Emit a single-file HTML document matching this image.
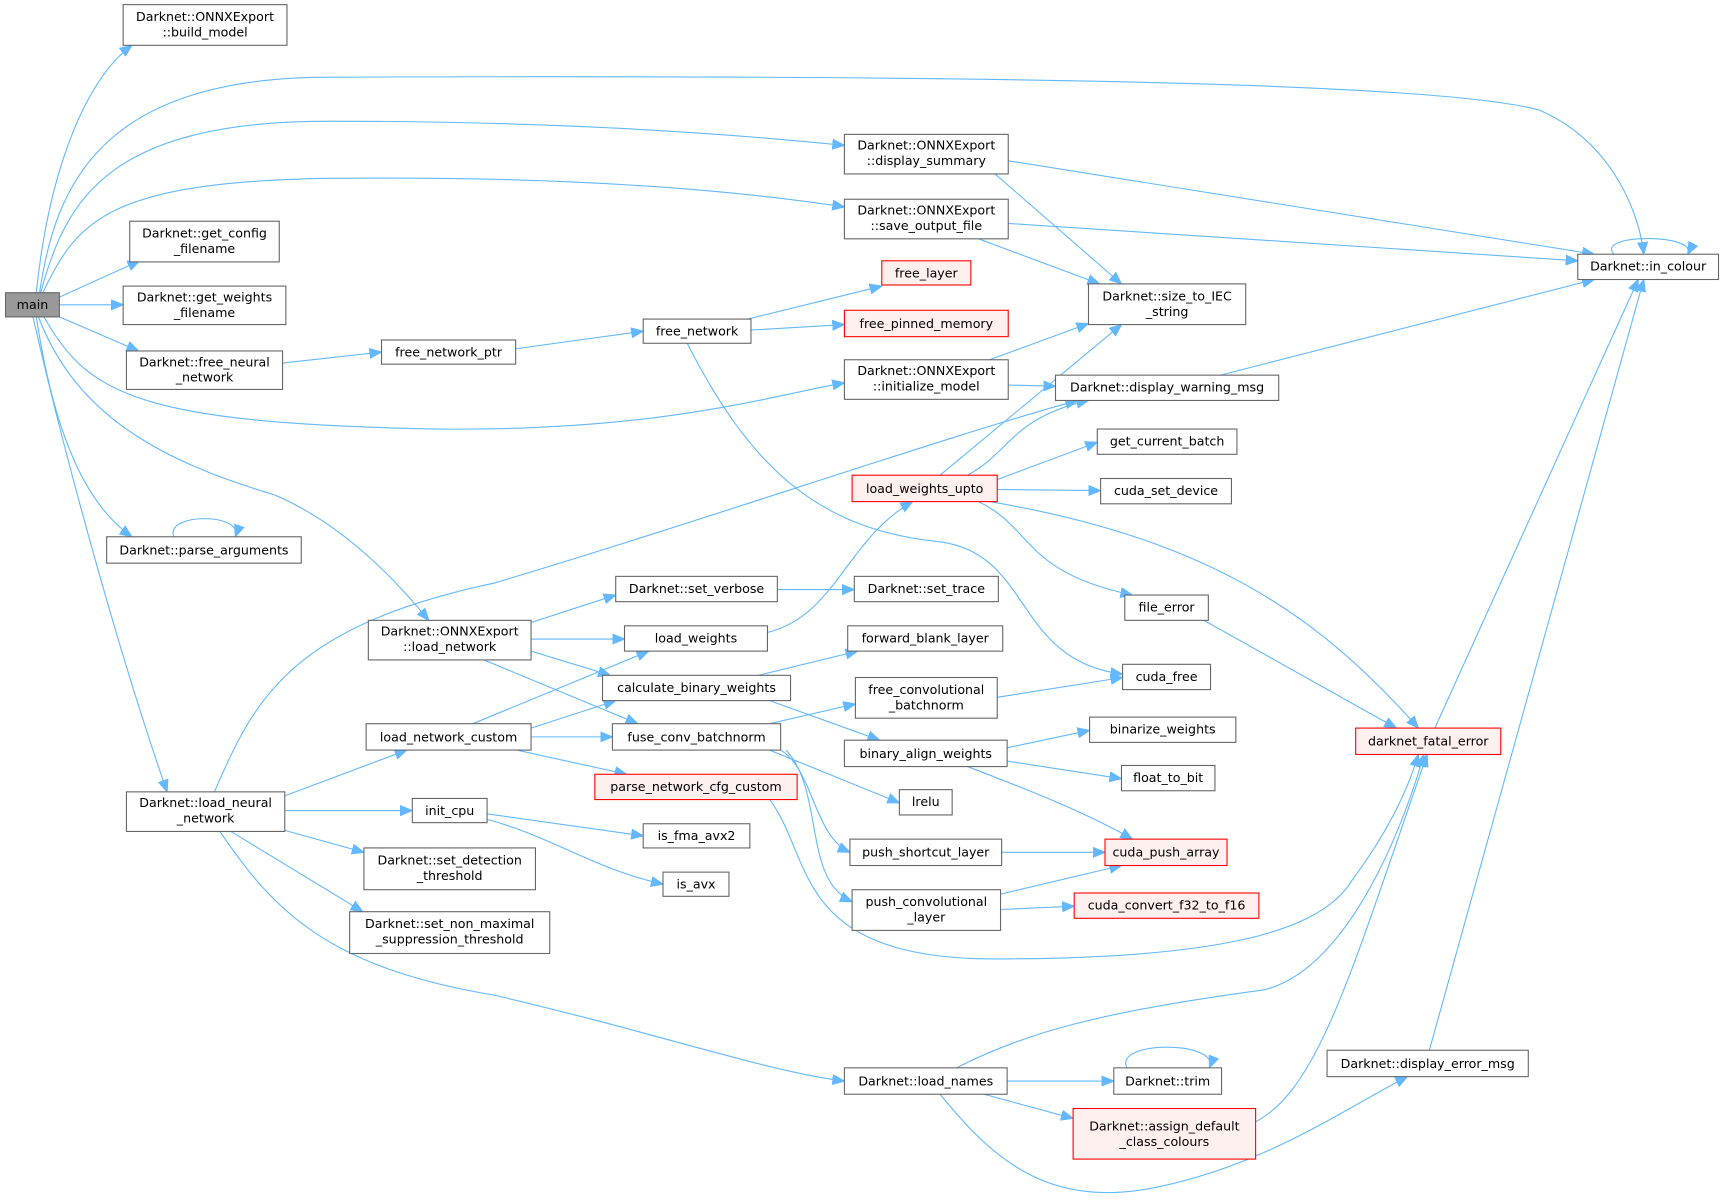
<!DOCTYPE html>
<html><head><meta charset="utf-8"><style>
html,body{margin:0;padding:0;background:#fff;}
svg{display:block}
text{font-family:"DejaVu Sans","Liberation Sans",sans-serif;font-size:11.5px;fill:#000;text-anchor:middle}
.n{fill:#fff;stroke:#666;stroke-width:1}
.r{fill:#fff0f0;stroke:#f00;stroke-width:1}
.m{fill:#999;stroke:#666;stroke-width:1}
path{fill:none;stroke:#63b8ff;stroke-width:1}
</style></head><body>
<svg width="1724" height="1200" viewBox="0 0 1568 1091" xmlns="http://www.w3.org/2000/svg">
<defs><marker id="a" markerUnits="userSpaceOnUse" markerWidth="12" markerHeight="10" refX="11" refY="5" orient="auto"><polygon points="0,0.5 11,5 0,9.5" fill="#63b8ff" stroke="#63b8ff"/></marker></defs>
<g marker-end="url(#a)">
<path d="M33,266 C45,150 80,70 120,41"/>
<path d="M36,266 C50,170 90,70 300,70 C800,68 1300,72 1400,100 C1470,130 1492,200 1495,231"/>
<path d="M37,266 C60,180 100,110 300,110 C500,110 650,120 768,132"/>
<path d="M39,266 C70,200 100,165 300,162 C500,160 650,170 768,188"/>
<path d="M54,270 L127,237"/>
<path d="M54,277 L112,277"/>
<path d="M54,288 L126,319"/>
<path d="M40,288 C80,360 130,385 400,390 C600,392 700,360 768,348"/>
<path d="M35,288 C70,380 150,420 250,450 C320,480 370,540 390,564"/>
<path d="M33,288 C50,400 80,460 120,488"/>
<path d="M30,288 C60,420 110,600 152,720"/>
<path d="M158,488 C150,466 222,466 214,488"/>
<path d="M195,720 C230,640 260,570 450,530 C650,470 850,400 980,364"/>
<path d="M258,724 L370,682"/>
<path d="M259,737 L375,737"/>
<path d="M259,755 L331,775"/>
<path d="M210,756 L330,829"/>
<path d="M200,756 C250,830 300,880 450,905 C600,940 700,975 768,983"/>
<path d="M257,330 L347,320"/>
<path d="M469,317 L585,301"/>
<path d="M680,290 L802,260"/>
<path d="M683,300 L768,295"/>
<path d="M625,312 C680,420 740,480 850,492 C940,500 920,600 1021,613"/>
<path d="M905,158 L1020,258"/>
<path d="M917,146 L1450,231"/>
<path d="M890,217 L1000,258"/>
<path d="M917,203 L1435,237"/>
<path d="M900,327 L990,294"/>
<path d="M917,350 L960,351"/>
<path d="M1110,341 L1450,254"/>
<path d="M1468,231 C1450,212 1545,212 1535,231"/>
<path d="M855,432 L1020,295"/>
<path d="M880,432 C920,410 920,380 990,364"/>
<path d="M907,436 L998,402"/>
<path d="M907,445 L1001,446"/>
<path d="M890,456 C940,480 930,520 1030,541"/>
<path d="M900,456 C1100,490 1200,560 1290,662"/>
<path d="M1095,564 L1270,662"/>
<path d="M1305,662 L1490,254"/>
<path d="M1300,955 L1495,254"/>
<path d="M483,566 L560,541"/>
<path d="M483,581 L568,581"/>
<path d="M483,592 L555,614"/>
<path d="M440,600 L580,658"/>
<path d="M707,536 L777,536"/>
<path d="M698,575 C760,560 770,490 830,456"/>
<path d="M690,614 L780,592"/>
<path d="M700,637 L800,673"/>
<path d="M430,658 L590,592"/>
<path d="M483,662 L560,637"/>
<path d="M483,670 L557,670"/>
<path d="M470,682 L570,704"/>
<path d="M700,658 L778,640"/>
<path d="M700,682 L818,730"/>
<path d="M710,682 C740,700 740,760 773,775"/>
<path d="M715,682 C750,720 730,800 775,820"/>
<path d="M907,634 L1021,616"/>
<path d="M916,680 L991,664"/>
<path d="M916,692 L1020,708"/>
<path d="M880,697 C940,720 990,740 1030,763"/>
<path d="M700,727 C740,780 720,870 900,872 C1100,872 1200,850 1230,800 C1260,760 1280,720 1290,686"/>
<path d="M443,740 L585,760"/>
<path d="M443,745 C500,760 540,790 603,804"/>
<path d="M911,775 L1005,775"/>
<path d="M910,813 L1020,787"/>
<path d="M910,827 L977,824"/>
<path d="M870,971 C930,940 1000,920 1150,900 C1230,880 1280,740 1295,686"/>
<path d="M916,983 L1013,983"/>
<path d="M1025,971 C1012,946 1110,946 1100,971"/>
<path d="M895,995 L976,1017"/>
<path d="M855,995 C900,1050 950,1100 1050,1080 C1150,1060 1220,1010 1280,979"/>
<path d="M1142,1020 C1200,990 1230,880 1298,686"/>
</g>
<g>
<rect class="m" x="5" y="266" width="49" height="22"/><text x="29.5" y="281">main</text>
<rect class="n" x="112" y="4" width="149" height="37"/><text x="186.5" y="19">Darknet::ONNXExport</text><text x="186.5" y="33">::build_model</text>
<rect class="n" x="118" y="201" width="136" height="37"/><text x="186" y="216">Darknet::get_config</text><text x="186" y="230">_filename</text>
<rect class="n" x="112" y="260" width="148" height="35"/><text x="186" y="274">Darknet::get_weights</text><text x="186" y="288">_filename</text>
<rect class="n" x="115" y="319" width="142" height="35"/><text x="186" y="333">Darknet::free_neural</text><text x="186" y="347">_network</text>
<rect class="n" x="97" y="488" width="177" height="24"/><text x="185.5" y="504">Darknet::parse_arguments</text>
<rect class="n" x="115" y="720" width="144" height="36"/><text x="187" y="734">Darknet::load_neural</text><text x="187" y="748">_network</text>
<rect class="n" x="768" y="122" width="149" height="36"/><text x="842.5" y="136">Darknet::ONNXExport</text><text x="842.5" y="150">::display_summary</text>
<rect class="n" x="768" y="181" width="149" height="36"/><text x="842.5" y="195">Darknet::ONNXExport</text><text x="842.5" y="209">::save_output_file</text>
<rect class="n" x="768" y="327" width="149" height="36"/><text x="842.5" y="341">Darknet::ONNXExport</text><text x="842.5" y="355">::initialize_model</text>
<rect class="n" x="335" y="564" width="148" height="36"/><text x="409" y="578">Darknet::ONNXExport</text><text x="409" y="592">::load_network</text>
<rect class="n" x="347" y="309" width="122" height="22"/><text x="408" y="324">free_network_ptr</text>
<rect class="n" x="585" y="290" width="98" height="22"/><text x="634" y="305">free_network</text>
<rect class="r" x="802" y="237" width="81" height="22"/><text x="842.5" y="252">free_layer</text>
<rect class="r" x="768" y="282" width="149" height="24"/><text x="842.5" y="298">free_pinned_memory</text>
<rect class="n" x="1435" y="231" width="128" height="23"/><text x="1499" y="246">Darknet::in_colour</text>
<rect class="n" x="990" y="258" width="143" height="37"/><text x="1061.5" y="273">Darknet::size_to_IEC</text><text x="1061.5" y="287">_string</text>
<rect class="n" x="960" y="341" width="203" height="23"/><text x="1061.5" y="356">Darknet::display_warning_msg</text>
<rect class="n" x="998" y="390" width="127" height="23"/><text x="1061.5" y="405">get_current_batch</text>
<rect class="n" x="1001" y="435" width="119" height="23"/><text x="1060.5" y="450">cuda_set_device</text>
<rect class="r" x="775" y="432" width="132" height="24"/><text x="841" y="448">load_weights_upto</text>
<rect class="n" x="560" y="524" width="147" height="23"/><text x="633.5" y="539">Darknet::set_verbose</text>
<rect class="n" x="777" y="524" width="131" height="23"/><text x="842.5" y="539">Darknet::set_trace</text>
<rect class="n" x="568" y="569" width="130" height="23"/><text x="633" y="584">load_weights</text>
<rect class="n" x="771" y="569" width="141" height="23"/><text x="841.5" y="584">forward_blank_layer</text>
<rect class="n" x="548" y="614" width="171" height="23"/><text x="633.5" y="629">calculate_binary_weights</text>
<rect class="n" x="1023" y="541" width="76" height="23"/><text x="1061" y="556">file_error</text>
<rect class="n" x="1021" y="604" width="80" height="23"/><text x="1061" y="619">cuda_free</text>
<rect class="n" x="778" y="616" width="129" height="37"/><text x="842.5" y="631">free_convolutional</text><text x="842.5" y="645">_batchnorm</text>
<rect class="n" x="333" y="658" width="150" height="24"/><text x="408" y="674">load_network_custom</text>
<rect class="n" x="557" y="658" width="153" height="24"/><text x="633.5" y="674">fuse_conv_batchnorm</text>
<rect class="n" x="768" y="673" width="148" height="24"/><text x="842" y="689">binary_align_weights</text>
<rect class="n" x="991" y="652" width="133" height="23"/><text x="1057.5" y="667">binarize_weights</text>
<rect class="r" x="1233" y="662" width="132" height="24"/><text x="1299" y="678">darknet_fatal_error</text>
<rect class="n" x="1020" y="696" width="85" height="23"/><text x="1062.5" y="711">float_to_bit</text>
<rect class="r" x="541" y="704" width="184" height="23"/><text x="633" y="719">parse_network_cfg_custom</text>
<rect class="n" x="818" y="718" width="48" height="23"/><text x="842" y="733">lrelu</text>
<rect class="n" x="375" y="726" width="68" height="22"/><text x="409" y="741">init_cpu</text>
<rect class="n" x="585" y="749" width="97" height="22"/><text x="633.5" y="764">is_fma_avx2</text>
<rect class="n" x="331" y="771" width="156" height="38"/><text x="409" y="786">Darknet::set_detection</text><text x="409" y="800">_threshold</text>
<rect class="n" x="603" y="793" width="60" height="22"/><text x="633" y="808">is_avx</text>
<rect class="n" x="773" y="763" width="138" height="24"/><text x="842" y="779">push_shortcut_layer</text>
<rect class="r" x="1005" y="763" width="111" height="24"/><text x="1060.5" y="779">cuda_push_array</text>
<rect class="n" x="775" y="809" width="135" height="37"/><text x="842.5" y="824">push_convolutional</text><text x="842.5" y="838">_layer</text>
<rect class="r" x="977" y="812" width="168" height="23"/><text x="1061" y="827">cuda_convert_f32_to_f16</text>
<rect class="n" x="318" y="829" width="182" height="38"/><text x="409" y="844">Darknet::set_non_maximal</text><text x="409" y="858">_suppression_threshold</text>
<rect class="n" x="1207" y="955" width="183" height="24"/><text x="1298.5" y="971">Darknet::display_error_msg</text>
<rect class="n" x="768" y="971" width="148" height="24"/><text x="842" y="987">Darknet::load_names</text>
<rect class="n" x="1013" y="971" width="98" height="24"/><text x="1062" y="987">Darknet::trim</text>
<rect class="r" x="976" y="1008" width="166" height="46"/><text x="1059" y="1028">Darknet::assign_default</text><text x="1059" y="1042">_class_colours</text>
</g>
</svg>
</body></html>
